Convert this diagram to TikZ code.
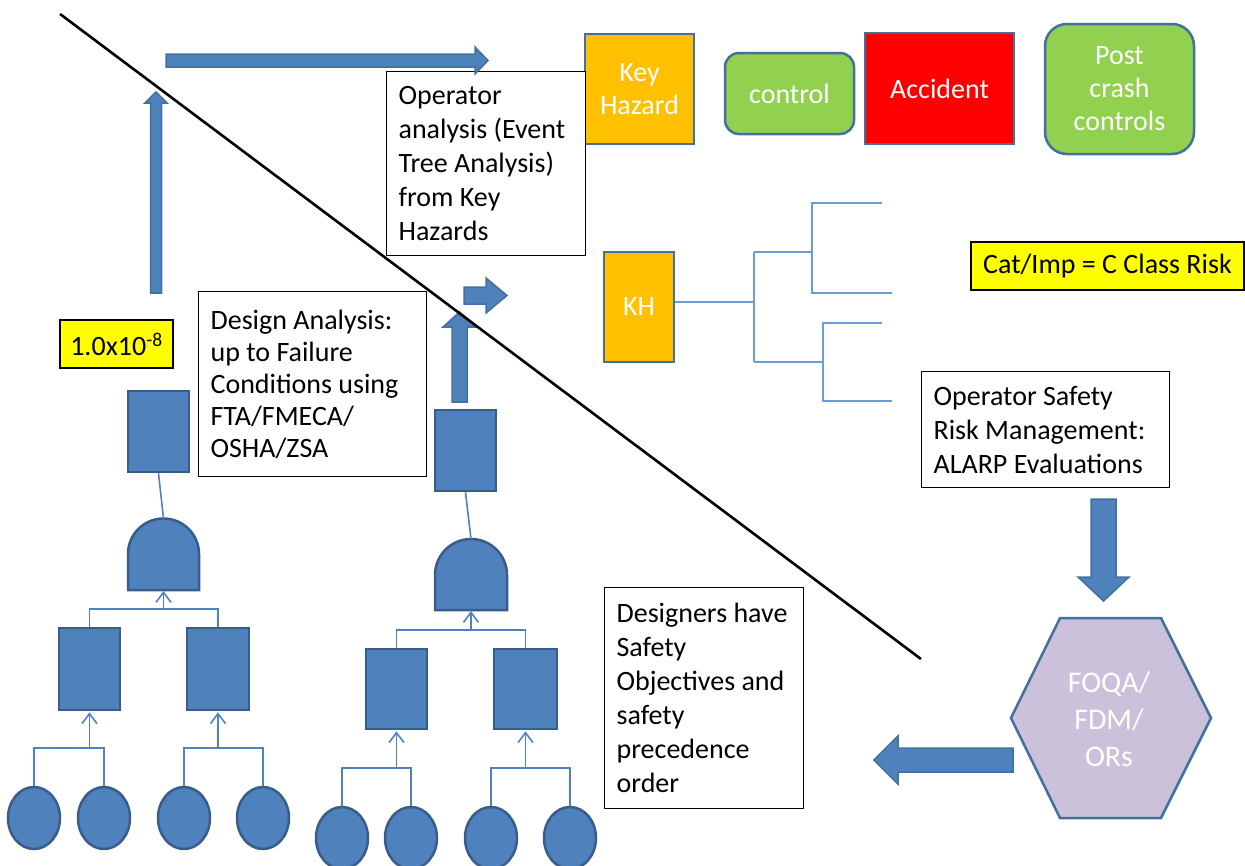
\documentclass[tikz,border=0pt]{standalone}
\usepackage{fontspec}
\setmainfont{Carlito}
\usetikzlibrary{arrows.meta,shapes.geometric}
\definecolor{ftfill}{HTML}{4F81BD}
\definecolor{ftedge}{HTML}{385D8A}
\definecolor{arredge}{HTML}{41719C}
\definecolor{linkblue}{HTML}{4F81BD}
\definecolor{etblue}{HTML}{6C9BD6}
\definecolor{hazorange}{HTML}{FFC000}
\definecolor{ctrlgreen}{HTML}{92D050}
\definecolor{accred}{HTML}{FF0000}
\definecolor{noteyellow}{HTML}{FFFF00}
\definecolor{hexlilac}{HTML}{CCC1DA}
\begin{document}
\begin{tikzpicture}[x=1pt,y=-1pt,
  ftbox/.style={draw=ftedge, fill=ftfill, line width=2.5pt, inner sep=0pt},
  ftevent/.style={draw=ftedge, fill=ftfill, line width=2.5pt, ellipse, inner sep=0pt,
    minimum width=52pt, minimum height=62pt},
  ftgate/.style={draw=ftedge, fill=ftfill, line width=2.5pt},
  ftlink/.style={draw=linkblue, line width=1.6pt},
  ftup/.style={ftlink, shorten >=1pt, -{Straight Barb[length=10pt,width=15pt]}},
  blockarrow/.style={fill=ftfill, draw=arredge, line width=1.5pt, line join=miter},
  txtbox/.style={draw=black, line width=1.2pt, fill=white, align=flush left, inner xsep=12pt,
    inner ysep=0pt, anchor=north west, font=\fontsize{28}{34}\selectfont},
  colorbox/.style={draw=arredge, line width=2.5pt, text=white, align=center, inner sep=0pt,
    font=\fontsize{28}{33}\selectfont},
  notebox/.style={draw=black, fill=noteyellow, line width=1.2pt, inner sep=0pt,
    font=\fontsize{28}{34}\selectfont},
  etline/.style={draw=etblue, line width=1.6pt},
  divider/.style={draw=black, line width=2.6pt}]
\useasboundingbox (0,0) rectangle (1245,865);

% ---------- top row: key hazard to post-crash ----------
\node[colorbox, fill=hazorange, minimum width=109pt, minimum height=110pt] (keyhaz) at (639.5,89) {Key\\Hazard};
\node[colorbox, fill=ctrlgreen, rounded corners=14pt, minimum width=129pt, minimum height=81pt] (ctrl) at (789.5,93.5) {control};
\node[colorbox, fill=accred, minimum width=149pt, minimum height=111pt] (accident) at (939.5,88.5) {Accident};
\node[colorbox, fill=ctrlgreen, rounded corners=22pt, minimum width=149pt, minimum height=130pt] (postcrash) at (1119.5,89) {Post\\crash\\controls};

% ---------- text boxes ----------
\node[txtbox, text width=175pt, minimum height=184pt] (opan) at (386,71)
  {\mbox{Operator}\\\mbox{analysis (Event}\\\mbox{Tree Analysis)}\\\mbox{from Key}\\\mbox{Hazards}};
\node[txtbox, text width=204pt, minimum height=185pt, font=\fontsize{28}{32}\selectfont] (desan) at (198,291)
  {\mbox{Design Analysis:}\\\mbox{up to Failure}\\\mbox{Conditions using}\\\mbox{FTA/FMECA/}\\\mbox{OSHA/ZSA}};
\node[txtbox, text width=224pt, minimum height=116pt] (osrm) at (921,371)
  {\mbox{Operator Safety}\\\mbox{Risk Management:}\\\mbox{ALARP Evaluations}};
\node[txtbox, text width=175pt, minimum height=221pt] (designers) at (604,587)
  {\mbox{Designers have}\\\mbox{Safety}\\\mbox{Objectives and}\\\mbox{safety}\\\mbox{precedence}\\\mbox{order}};
\node[notebox, minimum width=273pt, minimum height=48pt] (catimp) at (1107.5,266) {Cat/Imp = C Class Risk};
\node[notebox, minimum width=113pt, minimum height=48pt] (prob) at (116.5,344) {1.0x10\textsuperscript{-8}};

% ---------- event tree from the key hazard ----------
\node[colorbox, fill=hazorange, minimum width=70pt, minimum height=110pt] (kh) at (639,307) {KH};
\coordinate (et-root) at (754,302);
\coordinate (et-up) at (754,252);
\coordinate (et-dn) at (754,362);
\coordinate (et-u) at (812,252);
\coordinate (et-d) at (823,362);
\coordinate (et-o1) at (882,203);
\coordinate (et-o2) at (892,293);
\coordinate (et-o3) at (882,323);
\coordinate (et-o4) at (892,401);
\draw[etline] (kh.east |- et-root) -- (et-root);
\draw[etline] (et-up) -- (et-dn);
\draw[etline] (et-up) -- (et-u);
\draw[etline] (et-dn) -- (et-d);
\draw[etline] (et-o1) -| (et-u |- et-o2) -- (et-o2);
\draw[etline] (et-o3) -| (et-d |- et-o4) -- (et-o4);

% ---------- left fault tree ----------
\node[ftbox, minimum width=61pt, minimum height=81pt] (lt-top) at (158.5,431.5) {};
\draw[ftgate] (128,590) -- (128,554) arc[start angle=180, end angle=360, radius=35.5] -- (199,590) -- cycle;
\coordinate (lt-gtop) at (163.5,518.5);
\coordinate (lt-gbot) at (163.5,590);
\node[ftbox, minimum width=61pt, minimum height=82pt] (lt-a) at (89.5,669) {};
\node[ftbox, minimum width=62pt, minimum height=82pt] (lt-b) at (218,669) {};
\node[ftevent] (lt-e1) at (34,818) {};
\node[ftevent] (lt-e2) at (104,818) {};
\node[ftevent] (lt-e3) at (184,818) {};
\node[ftevent] (lt-e4) at (263,818) {};
\coordinate (lt-j) at (163.5,609);
\coordinate (lt-ja) at (89.5,748);
\coordinate (lt-jb) at (218,748);
\draw[ftlink] (lt-top.south) -- (lt-gtop);
\draw[ftlink] (lt-a.north) |- (lt-j) -| (lt-b.north);
\draw[ftup] (lt-j) -- (lt-gbot);
\draw[ftlink] (lt-e1.north) |- (lt-ja) -| (lt-e2.north);
\draw[ftlink] (lt-e3.north) |- (lt-jb) -| (lt-e4.north);
\draw[ftup] (lt-ja) -- (lt-a.south);
\draw[ftup] (lt-jb) -- (lt-b.south);

% ---------- right fault tree ----------
\node[ftbox, minimum width=61pt, minimum height=81pt] (rt-top) at (465.5,450.5) {};
\draw[ftgate] (435,610) -- (435,575) arc[start angle=180, end angle=360, radius=36] -- (507,610) -- cycle;
\coordinate (rt-gtop) at (471,539);
\coordinate (rt-gbot) at (471,610);
\node[ftbox, minimum width=61pt, minimum height=80pt] (rt-a) at (396.5,689) {};
\node[ftbox, minimum width=63pt, minimum height=80pt] (rt-b) at (525.5,689) {};
\node[ftevent] (rt-e1) at (342,838) {};
\node[ftevent] (rt-e2) at (411,838) {};
\node[ftevent] (rt-e3) at (491,838) {};
\node[ftevent] (rt-e4) at (570,838) {};
\coordinate (rt-j) at (471,630);
\coordinate (rt-ja) at (396.5,768);
\coordinate (rt-jb) at (525.5,768);
\draw[ftlink] (rt-top.south) -- (rt-gtop);
\draw[ftlink] (rt-a.north) |- (rt-j) -| (rt-b.north);
\draw[ftup] (rt-j) -- (rt-gbot);
\draw[ftlink] (rt-e1.north) |- (rt-ja) -| (rt-e2.north);
\draw[ftlink] (rt-e3.north) |- (rt-jb) -| (rt-e4.north);
\draw[ftup] (rt-ja) -- (rt-a.south);
\draw[ftup] (rt-jb) -- (rt-b.south);

% ---------- monitoring hexagon ----------
\draw[fill=hexlilac, draw=arredge, line width=2.5pt]
  (1060,618) -- (1161,618) -- (1211,718) -- (1161,818) -- (1060,818) -- (1011,718) -- cycle;
\node[text=white, align=center, inner sep=0pt, font=\fontsize{30}{37}\selectfont] (hex) at (1109,719) {FOQA/\\FDM/\\ORs};

% ---------- block arrows ----------
% top: towards the key hazard
\draw[blockarrow] (166,54) -- (475,54) -- (475,47) -- (488,60.5) -- (475,74) -- (475,67) -- (166,67) -- cycle;
% left: up from the probability note
\draw[blockarrow] (150.5,293) -- (150.5,103) -- (145,103) -- (156,92) -- (167,103) -- (161.5,103) -- (161.5,293) -- cycle;
% right tree: up and across
\draw[blockarrow] (452,402) -- (452,327) -- (443,327) -- (459.5,312) -- (476,327) -- (467,327) -- (467,402) -- cycle;
\draw[blockarrow] (464,287) -- (486,287) -- (486,278) -- (507,295.5) -- (486,313) -- (486,304) -- (464,304) -- cycle;
% down into the hexagon
\draw[blockarrow] (1091,499) -- (1116,499) -- (1116,577) -- (1129,577) -- (1103.5,601) -- (1078,577) -- (1091,577) -- cycle;
% back to the designers
\draw[blockarrow] (1013,748) -- (898,748) -- (898,736) -- (874,760) -- (898,784) -- (898,772) -- (1013,772) -- cycle;

% ---------- dividing line ----------
\coordinate (div-a) at (60,14);
\coordinate (div-b) at (921,659);
\draw[divider] (div-a) -- (div-b);
\end{tikzpicture}
\end{document}
